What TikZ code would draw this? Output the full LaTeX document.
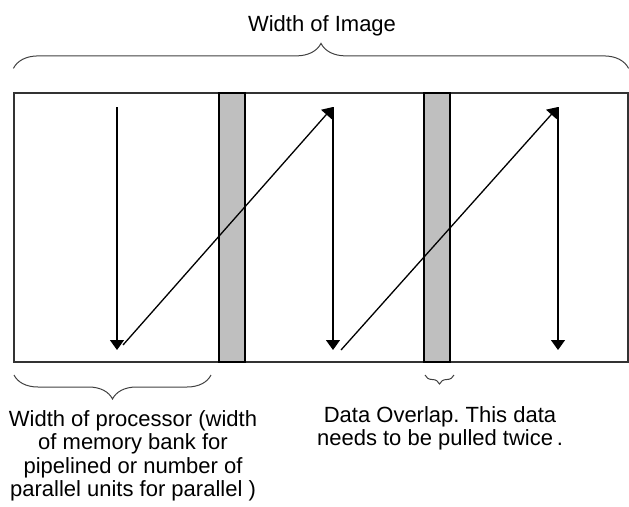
\documentclass[tikz,border=0pt]{standalone}
\usepackage{fontspec}
\setmainfont{Liberation Sans}
\frenchspacing
\usetikzlibrary{
  arrows.meta,
  decorations.pathreplacing,
  positioning,
}
\tikzset{
  >={Triangle[width=14pt,length=10pt]},
}

\begin{document}
\begin{tikzpicture}[x=1pt, y=-1pt,
                    every node/.style={font=\fontsize{22}{23.5}\selectfont},
                    band/.style={draw=black!80, line width=1.2pt, inner sep=0pt,
                                 minimum width=614pt, minimum height=269pt},
                    overlap/.style={draw=black, fill=black!25, line width=1.8pt,
                                    inner sep=0pt, minimum width=26pt, minimum height=269pt},
                    scan/.style={->, line width=1.3pt},
                    bracket/.style={decorate, draw=black!75, line width=1pt}]
      \useasboundingbox (0,0) rectangle (629,506);
      \node [band] (img) at (321, 227.5) {};
      \node [overlap] (ovA) at (232, 227.5) {};
      \node [overlap] (ovB) at (437, 227.5) {};
      % scan order
      \coordinate (colAtop) at (117, 107);
      \coordinate (colAbot) at (117, 350);
      \coordinate (colBtop) at (333, 107);
      \coordinate (colBbot) at (333, 350);
      \coordinate (colCtop) at (558, 107);
      \coordinate (colCbot) at (558, 350);
      \coordinate (jumpA) at (123, 345);
      \coordinate (jumpB) at (341, 350);
      \draw [scan] (colAtop) -- (colAbot);
      \draw [scan] (jumpA) -- (colBtop);
      \draw [scan] (colBtop) -- (colBbot);
      \draw [scan] (jumpB) -- (colCtop);
      \draw [scan] (colCtop) -- (colCbot);
      % braces
      \draw [bracket, decoration={brace, amplitude=25pt}]
            ([yshift=24pt]img.north west) -- ([yshift=24pt]img.north east);
      \node [anchor=base] (title) at (322, 31) {Width of Image};
      \coordinate (procL) at (14, 375);
      \coordinate (procR) at (211, 375);
      \draw [bracket, decoration={brace, amplitude=24pt}] (procR) -- (procL);
      \node [anchor=north, align=center, inner sep=0pt] (proc) at (133, 410)
            {Width of processor (width\\ of memory bank for\\
             pipelined or number of\\ parallel units for parallel )};
      \coordinate (ovL) at (425, 375);
      \coordinate (ovR) at (454, 375);
      \draw [bracket, decoration={brace, amplitude=9pt}] (ovR) -- (ovL);
      \node [anchor=north, align=center, inner sep=0pt] (dup) at (440, 406)
            {Data Overlap. This data\\ needs to be pulled twice\,.};
    \end{tikzpicture}
\end{document}
